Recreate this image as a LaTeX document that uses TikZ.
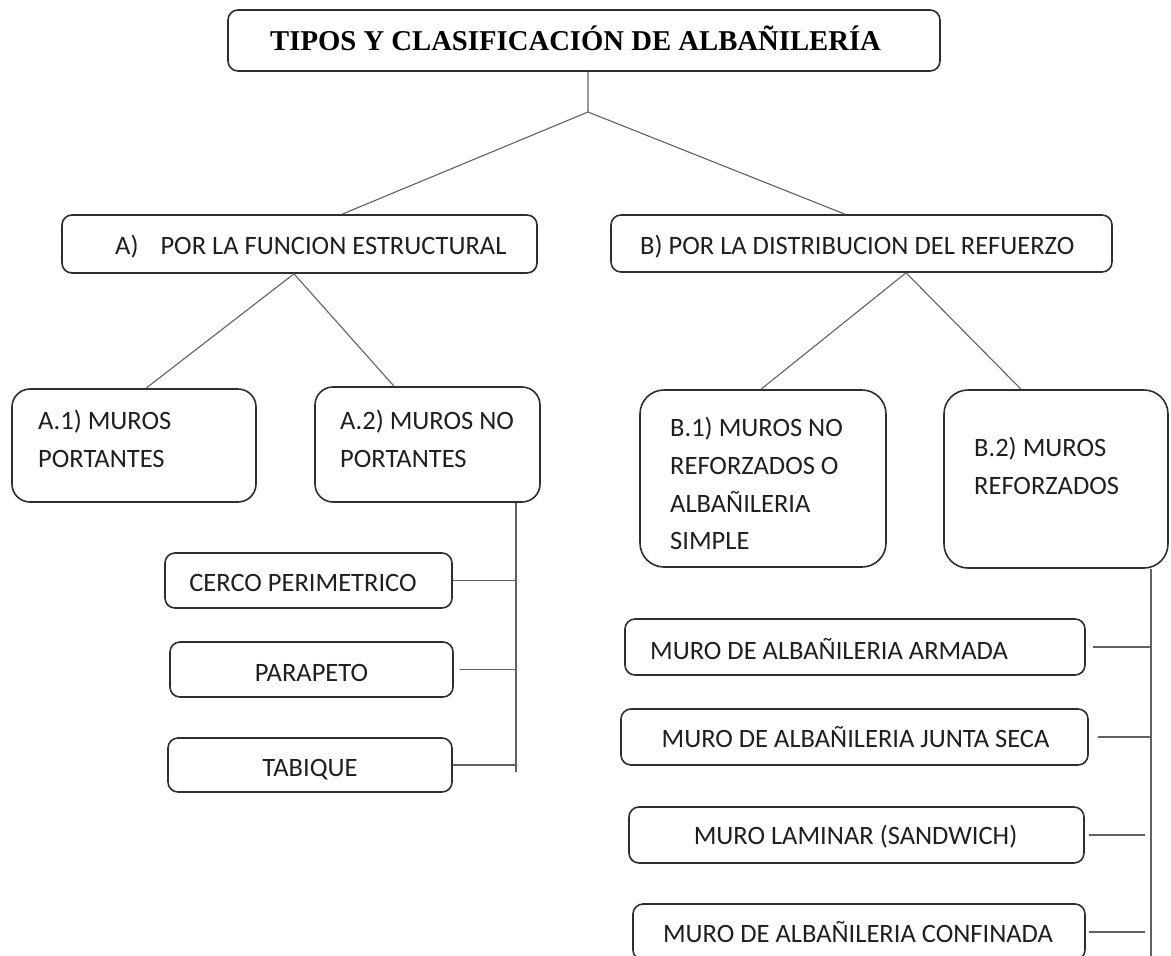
\documentclass[tikz,border=0pt]{standalone}
\usepackage{fontspec}
\setmainfont{Carlito}
\newfontfamily\titlefont{Liberation Serif}
\begin{document}
\begin{tikzpicture}[x=1pt,y=-1pt,
  box/.style={draw=black!82,line width=1.6pt,rounded corners=#1,inner sep=0pt,fill=none},
  box/.default=10pt,
  conn/.style={draw=black!62,line width=1.1pt},
  txt/.style={inner sep=0pt,anchor=base west,text=black!88,font=\fontsize{26.5}{38}\selectfont},
  ctxt/.style={inner sep=0pt,anchor=base,text=black!88,font=\fontsize{26.5}{38}\selectfont}]
\useasboundingbox (0,0) rectangle (1171,956);
% boxes
\node[box=10pt,minimum width=712pt,minimum height=61pt] (title) at (584,40.5) {};
\node[inner sep=0pt,anchor=base west,font=\titlefont\bfseries\fontsize{28.7}{34}\selectfont] (titlet) at (270,50) {TIPOS Y CLASIFICACIÓN DE ALBAÑILERÍA};
\node[box=10pt,minimum width=475pt,minimum height=58pt] (a) at (299.5,244) {};
\node[txt] (at) at (115,254) {A)\hspace{16pt} POR LA FUNCION ESTRUCTURAL};
\node[box=10pt,minimum width=501pt,minimum height=57pt] (b) at (861.5,243.5) {};
\node[txt] (bt) at (640,254) {B) POR LA DISTRIBUCION DEL REFUERZO};
\node[box=18pt,minimum width=244pt,minimum height=113pt] (a1) at (134,445.5) {};
\node[txt] (a1t1) at (38,429) {A.1) MUROS};
\node[txt] (a1t2) at (38,467) {PORTANTES};
\node[box=18pt,minimum width=225pt,minimum height=115pt] (a2) at (427.5,444.5) {};
\node[txt] (a2t1) at (340,429) {A.2) MUROS NO};
\node[txt] (a2t2) at (340,467) {PORTANTES};
\node[box=24pt,minimum width=246pt,minimum height=177pt] (b1) at (763,478.5) {};
\node[txt] (b1t1) at (670,436) {B.1) MUROS NO};
\node[txt] (b1t2) at (670,474) {REFORZADOS O};
\node[txt] (b1t3) at (670,512) {ALBAÑILERIA};
\node[txt] (b1t4) at (670,549) {SIMPLE};
\node[box=24pt,minimum width=224pt,minimum height=178pt] (b2) at (1056,479) {};
\node[txt] (b2t1) at (974,456) {B.2) MUROS};
\node[txt] (b2t2) at (974,494) {REFORZADOS};
% left list
\node[box=10pt,minimum width=287pt,minimum height=55pt] (cp) at (308.5,580.5) {};
\node[ctxt] (cpt) at (303,591) {CERCO PERIMETRICO};
\node[box=10pt,minimum width=283pt,minimum height=55pt] (pa) at (311.5,669.5) {};
\node[ctxt] (pat) at (311.5,681) {PARAPETO};
\node[box=10pt,minimum width=284pt,minimum height=54pt] (ta) at (310,765) {};
\node[ctxt] (tat) at (310,776) {TABIQUE};
% right list
\node[box=10pt,minimum width=460pt,minimum height=56pt] (ar) at (855,647) {};
\node[ctxt] (art) at (829,659) {MURO DE ALBAÑILERIA ARMADA};
\node[box=10pt,minimum width=467pt,minimum height=56pt] (js) at (854.5,737) {};
\node[ctxt] (jst) at (855.5,747) {MURO DE ALBAÑILERIA JUNTA SECA};
\node[box=10pt,minimum width=455pt,minimum height=56pt] (lm) at (856.5,835) {};
\node[ctxt] (lmt) at (855.5,844) {MURO LAMINAR (SANDWICH)};
\node[box=10pt,minimum width=452pt,minimum height=56pt] (cf) at (859,932) {};
\node[ctxt] (cft) at (858,942) {MURO DE ALBAÑILERIA CONFINADA};
% connector points
\coordinate (j0) at (588,112);
\coordinate (ja) at (342,0);
\coordinate (jb) at (845,0);
\coordinate (apa) at (294,0);
\coordinate (a1p) at (146,0);
\coordinate (a2p) at (394,0);
\coordinate (apb) at (906,0);
\coordinate (b1p) at (761,0);
\coordinate (b2p) at (1021,0);
\coordinate (vl) at (516,772);
\coordinate (vr) at (1151,956);
% connectors
\draw[conn] (title.south -| j0) -- (j0) -- (a.north -| ja);
\draw[conn] (j0) -- (b.north -| jb);
\draw[conn] (a.south -| apa) -- (a1.north -| a1p);
\draw[conn] (a.south -| apa) -- (a2.north -| a2p);
\draw[conn] (b.south -| apb) -- (b1.north -| b1p);
\draw[conn] (b.south -| apb) -- (b2.north -| b2p);
\draw[conn] (a2.south -| vl) -- (vl);
\draw[conn] (cp.east) -- (cp.east -| vl);
\draw[conn] ([xshift=6pt]pa.east) -- (pa.east -| vl);
\draw[conn] (ta.east) -- (ta.east -| vl);
\draw[conn] (b2.south -| vr) -- (vr);
\draw[conn] ([xshift=7pt]ar.east) -- (ar.east -| vr);
\draw[conn] ([xshift=9pt]js.east) -- (js.east -| vr);
\draw[conn] ([xshift=4pt]lm.east) -- ([xshift=-6pt]lm.east -| vr);
\draw[conn] ([xshift=3pt]cf.east) -- ([xshift=-6pt]cf.east -| vr);
\end{tikzpicture}
\end{document}
